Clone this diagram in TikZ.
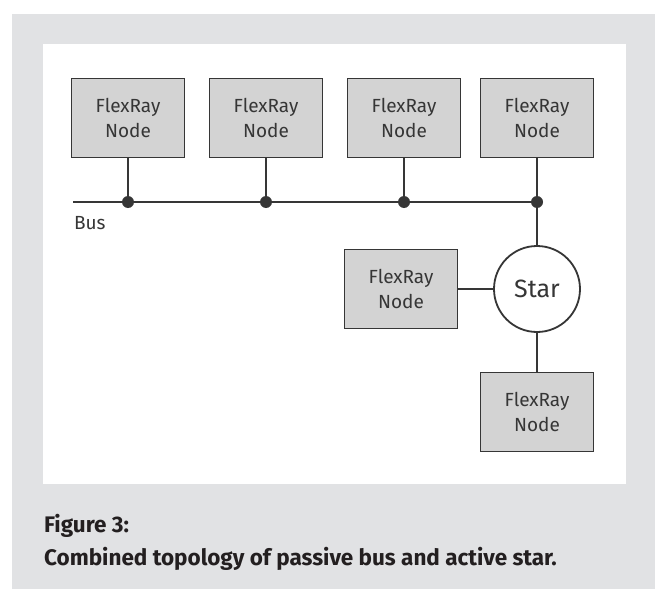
\documentclass[tikz,border=0pt]{standalone}
\usepackage{fontspec}
\setmainfont{Fira Sans}
\usepackage{tikz}
\definecolor{panel}{HTML}{E1E2E4}
\definecolor{boxgray}{HTML}{D3D3D3}
\definecolor{ink}{HTML}{363636}
\definecolor{capink}{HTML}{231F20}
\tikzset{
    flexray/.style={rectangle, draw=ink, fill=boxgray, line width=1.8pt,
        minimum width=113pt, minimum height=79pt, inner sep=0pt,
        align=center, text=ink, font=\fontsize{19}{25}\selectfont},
    tap/.style={circle, fill=ink, inner sep=0pt, minimum size=12pt},
    starnode/.style={circle, draw=ink, fill=white, line width=1.8pt,
        minimum size=86pt, inner sep=0pt, text=ink,
        font=\fontsize{25}{28}\selectfont},
    caption/.style={anchor=base west, inner sep=0pt, text=capink,
        font=\bfseries\fontsize{22.5}{33}\selectfont}
}

\begin{document}
\begin{tikzpicture}[x=1pt, y=-1pt, line width=2.2pt]
	\useasboundingbox (0,0) rectangle (657,589);
	\fill[panel] (12,14) rectangle (655,589);
	\fill[white] (43,44) rectangle (626,484);

	\node (1) [flexray] at (128,118) {FlexRay\\Node};
	\node (2) [flexray] at (266,118) {FlexRay\\Node};
	\node (3) [flexray] at (404,118) {FlexRay\\Node};
	\node (4) [flexray] at (537,118) {FlexRay\\Node};
	\node (star) [starnode] at (537,289) {Star};
	\node (5) [flexray] at (401,289) {FlexRay\\Node};
	\node (6) [flexray] at (537,412) {FlexRay\\Node};

	\coordinate (b0) at (73,202);
	\node (t1) [tap] at (1.south |- b0) {};
	\node (t2) [tap] at (2.south |- b0) {};
	\node (t3) [tap] at (3.south |- b0) {};
	\node (t4) [tap] at (4.south |- b0) {};
	\node (bus) [anchor=base west, inner sep=0pt, text=ink,
		font=\fontsize{19}{22}\selectfont] at (73,229) {Bus};

	\draw[ink] (b0) -- (t4.center);
	\draw[ink] (1) -- (t1.center); \draw[ink] (2) -- (t2.center);
	\draw[ink] (3) -- (t3.center); \draw[ink] (4) -- (t4.center);
	\draw[ink] (t4.center) -- (star); \draw[ink] (5) -- (star);
	\draw[ink] (star) -- (6);

	\node (cap1) [caption] at (43,532) {Figure 3:};
	\node (cap2) [caption] at (43,565) {Combined topology of passive bus and active star.};
\end{tikzpicture}
\end{document}
